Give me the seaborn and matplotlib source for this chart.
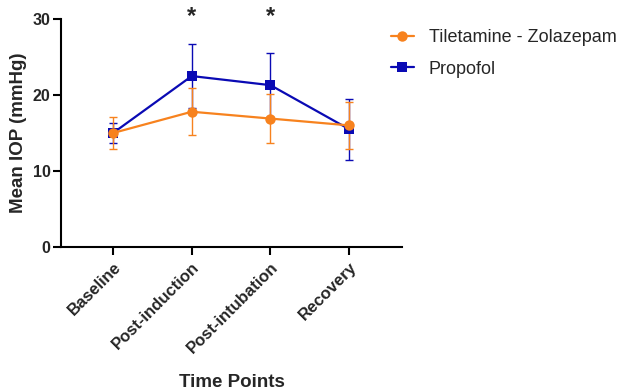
import matplotlib
matplotlib.use("Agg")
import matplotlib.pyplot as plt
import pandas as pd
import seaborn as sns

# time points and group means / SD
time_points = ["Baseline", "Post-induction", "Post-intubation", "Recovery"]
tz_mean = [15.0, 17.8, 16.9, 16.0]
tz_sd = [2.15, 3.1, 3.2, 3.1]
prop_mean = [15.0, 22.5, 21.3, 15.5]
prop_sd = [1.3, 4.2, 4.2, 4.0]
star_points = ["Post-induction", "Post-intubation"]

tz_color = "#F7821E"
prop_color = "#0A0AB4"

sns.set_style("ticks")
plt.rcParams["font.family"] = ["Liberation Sans", "DejaVu Sans"]

df = pd.DataFrame({
    "pos": list(range(len(time_points))) * 2,
    "mean": tz_mean + prop_mean,
    "sd": tz_sd + prop_sd,
    "group": ["Tiletamine - Zolazepam"] * 4 + ["Propofol"] * 4,
})

fig = plt.figure(figsize=(6.24, 3.9), dpi=100)
ax = fig.add_axes([0.098, 0.367, 0.546, 0.584])

# propofol first so the orange series sits on top
for grp, col, mk, ms in [("Propofol", prop_color, "s", 6.5),
                         ("Tiletamine - Zolazepam", tz_color, "o", 7.5)]:
    d = df[df["group"] == grp]
    ax.errorbar(d["pos"], d["mean"], yerr=d["sd"], fmt="none", ecolor=col,
                elinewidth=1.0, capsize=2.6, capthick=1.0, zorder=2)
    sns.lineplot(x=d["pos"], y=d["mean"], ax=ax, color=col, marker=mk,
                 markersize=ms, markeredgewidth=0, linewidth=1.6,
                 label=grp, zorder=3, legend=False)

for tp in star_points:
    ax.text(time_points.index(tp), 30.4, "*", ha="center", va="center",
            fontsize=17, fontweight="bold", clip_on=False)

ax.set_xlim(-0.66, 3.67)
ax.set_ylim(0, 30)
ax.set_yticks([0, 10, 20, 30])
ax.set_xticks(range(len(time_points)))
ax.set_xticklabels(time_points, rotation=45, ha="right", rotation_mode="anchor",
                   fontsize=12, fontweight="bold")
for t in ax.get_yticklabels():
    t.set_fontweight("bold")
    t.set_fontsize(11.5)
ax.tick_params(axis="both", width=1.5, length=6, color="black", pad=1.5)
ax.tick_params(axis="x", pad=3)
for s in ["left", "bottom"]:
    ax.spines[s].set_linewidth(1.5)
    ax.spines[s].set_color("black")
sns.despine(ax=ax)
ax.set_xlabel("Time Points", fontsize=13.5, fontweight="bold", labelpad=13)
ax.set_ylabel("Mean IOP (mmHg)", fontsize=13.5, fontweight="bold", labelpad=4)

h, l = ax.get_legend_handles_labels()
order = [l.index("Tiletamine - Zolazepam"), l.index("Propofol")]
fig.legend([h[i] for i in order], [l[i] for i in order], loc="upper left",
           bbox_to_anchor=(0.626, 0.925), frameon=False, fontsize=13,
           handlelength=1.3, handletextpad=0.8, labelspacing=0.8,
           borderpad=0, borderaxespad=0)

fig.savefig("out.png", dpi=100)
